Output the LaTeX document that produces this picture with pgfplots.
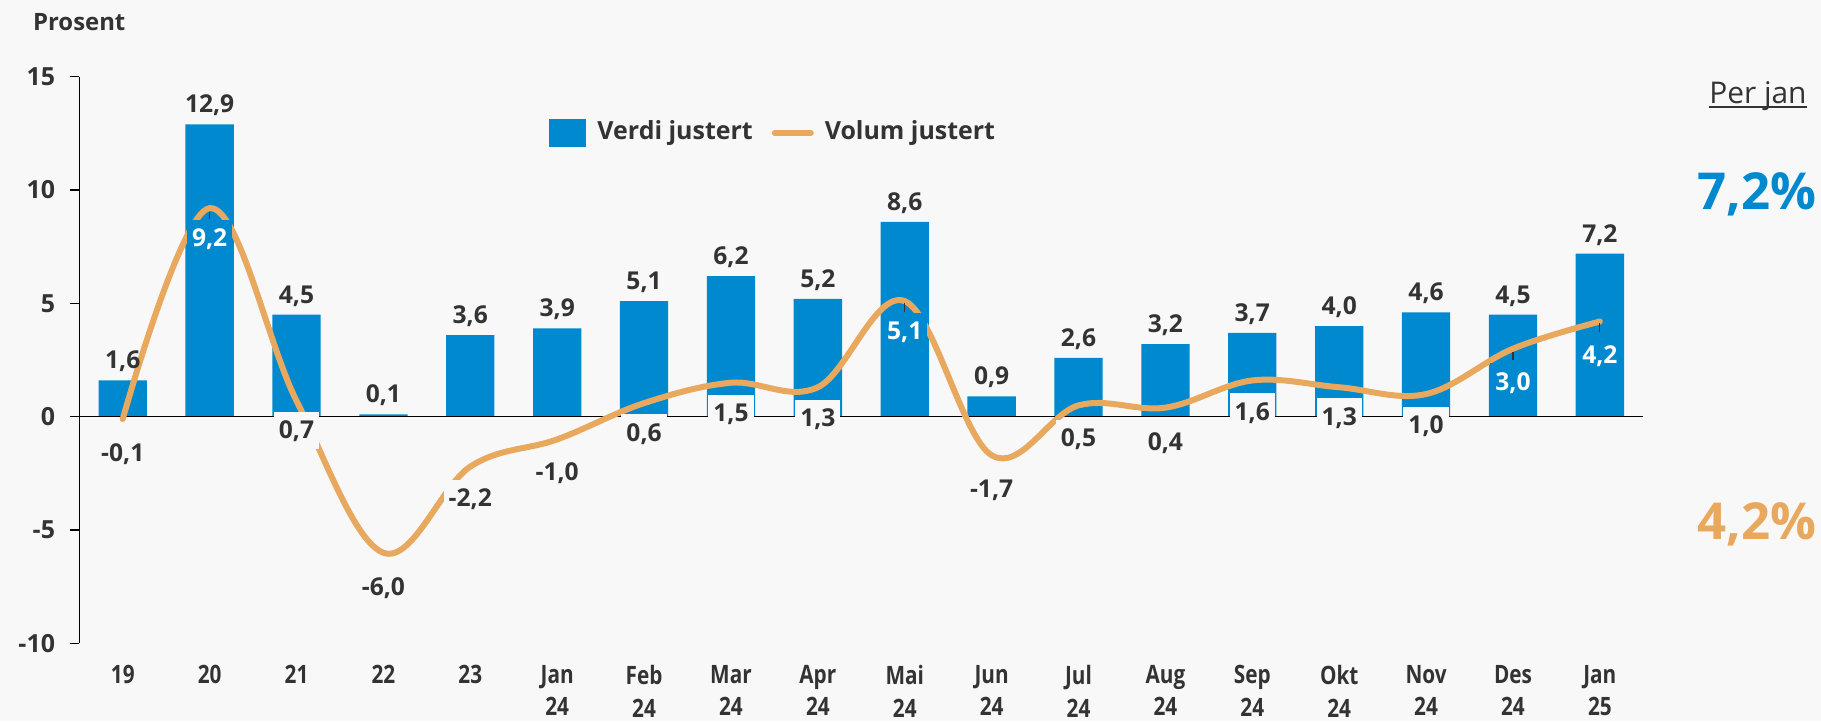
\documentclass[border=0pt]{standalone}
\usepackage{fontspec}
\setmainfont{Open Sans}
\newfontfamily\condsans{Open Sans}[FakeStretch=0.82]
\usepackage{pgfplots}
\usepackage{pgfplotstable}
\pgfplotsset{compat=1.18}

\definecolor{barblue}{HTML}{0089CF}
\definecolor{volorange}{HTML}{E8A95F}
\definecolor{txt}{HTML}{333333}
\definecolor{bg}{HTML}{F8F8F8}

% verdi = bars, volum = smooth line
\pgfplotstableread{
x verdi volum
0 1.6 -0.1
1 12.9 9.2
2 4.5 0.7
3 0.1 -6.0
4 3.6 -2.2
5 3.9 -1.0
6 5.1 0.6
7 6.2 1.5
8 5.2 1.3
9 8.6 5.1
10 0.9 -1.7
11 2.6 0.5
12 3.2 0.4
13 3.7 1.6
14 4.0 1.3
15 4.6 1.0
16 4.5 3.0
17 7.2 4.2
}\data

% label positions for the volume series
\pgfplotstableread{
x y lab
0 -1.59 -0,1
2 -0.59 0,7
3 -7.53 -6,0
4 -3.60 -2,2
5 -2.43 -1,0
6 -0.70 0,6
7 0.15 1,5
8 -0.07 1,3
10 -3.20 -1,7
11 -0.95 0,5
12 -1.10 0,4
13 0.22 1,6
14 0.00 1,3
15 -0.37 1,0
}\darklabels

\pgfplotstableread{
x y lab
1 7.87 9,2
9 3.78 5,1
16 1.54 3,0
17 2.72 4,2
}\lightlabels

\begin{document}
\begin{tikzpicture}
\fill[bg] (0,0) rectangle (182.1mm,72.1mm);
\useasboundingbox (0,0) rectangle (182.1mm,72.1mm);

\begin{axis}[
    at={(7.93mm,7.76mm)}, anchor=south west,
    scale only axis,
    width=156.4mm, height=56.67mm,
    xmin=-0.5, xmax=17.5,
    ymin=-10, ymax=15,
    clip=false,
    axis lines*=left,
    x axis line style={draw=none},
    y axis line style={black, line width=0.4pt},
    xtick={0,...,17},
    xticklabels={19,20,21,22,23,{Jan\\24},{Feb\\24},{Mar\\24},{Apr\\24},{Mai\\24},{Jun\\24},{Jul\\24},{Aug\\24},{Sep\\24},{Okt\\24},{Nov\\24},{Des\\24},{Jan\\25}},
    xtick style={draw=none},
    xticklabel style={anchor=north, inner sep=0pt, yshift=-1.2mm, align=center,
        font=\condsans\fontsize{7.2}{9.3}\selectfont\bfseries, text=txt},
    ytick={-10,-5,0,5,10,15},
    yticklabels={-10,-5,0,5,10,15},
    tick align=outside,
    major tick length=0.9mm,
    ytick style={black, line width=0.4pt},
    yticklabel style={anchor=east, inner sep=0pt, xshift=-1.46mm,
        font=\fontsize{7.1}{8}\selectfont\bfseries, text=txt},
    legend columns=2,
    legend style={at={(0.2999,0.9006)}, anchor=west, draw=none, fill=none,
        inner sep=0pt, font=\fontsize{7.1}{8.5}\selectfont\bfseries, text=txt,
        nodes={inner sep=0pt},
        /tikz/every odd column/.append style={column sep=1.1mm},
        /tikz/every even column/.append style={column sep=1.9mm}},
]

\addplot[ybar, bar width=4.83mm, fill=barblue, draw=none,
    legend image code/.code={\fill[barblue] (0mm,-1.4mm) rectangle (3.74mm,1.4mm);},
    nodes near coords={\pgfmathprintnumber[fixed, fixed zerofill, precision=1, use comma, assume math mode=true]{\pgfplotspointmeta}},
    every node near coord/.append style={font=\fontsize{7}{8}\selectfont\bfseries, text=txt, anchor=base, inner sep=0pt, yshift=1.15mm}]
    table[x=x, y=verdi] {\data};
\addlegendentry{Verdi justert}

\addplot[black, line width=0.4pt, forget plot] coordinates {(-0.5,0) (17.5,0)};

\addplot[volorange, line width=0.6mm, smooth, tension=0.6, line cap=round,
    legend image code/.code={\path (0,0) -- (3.6mm,0);
        \draw[volorange, line width=0.6mm, line cap=round] (0.3mm,0) -- (3.3mm,0);}]
    table[x=x, y=volum] {\data};
\addlegendentry{Volum justert}

% leader lines
\addplot[txt, line width=0.12mm, forget plot, unbounded coords=jump]
    coordinates {(1,9.04) (1,8.71) (1,nan) (9,5.02) (9,4.63) (9,nan)
                 (16,2.87) (16,2.5) (16,nan) (17,4.13) (17,3.75)};

\addplot[draw=none, mark=none, forget plot, point meta=explicit symbolic,
    nodes near coords,
    every node near coord/.append style={anchor=center, fill=bg, text=txt,
        font=\fontsize{7}{8}\selectfont\bfseries,
        text height=1.7mm, text depth=0pt, inner xsep=0.5mm, inner ysep=1.0mm}]
    table[x=x, y=y, meta=lab] {\darklabels};

\addplot[draw=none, mark=none, forget plot, point meta=explicit symbolic,
    nodes near coords,
    every node near coord/.append style={anchor=center, fill=barblue, text=white,
        font=\fontsize{7}{8}\selectfont\bfseries,
        text height=1.7mm, text depth=0pt, inner xsep=0.5mm, inner ysep=1.0mm}]
    table[x=x, y=y, meta=lab] {\lightlabels};

\node[anchor=base west, inner sep=0pt, text=txt, font=\fontsize{6.8}{8}\selectfont\bfseries]
    at (rel axis cs:-0.030,1.0824) {Prosent};
\node[anchor=base, inner sep=0pt, text=txt, font=\fontsize{8.5}{10}\selectfont] (pj)
    at (rel axis cs:1.0733,0.953) {Per jan};
\draw[txt, line width=0.2mm] ([yshift=-0.35mm]pj.base west) -- ([yshift=-0.35mm]pj.base east);
\node[anchor=base, inner sep=0pt, text=barblue, font=\fontsize{14.5}{16}\selectfont\bfseries]
    at (rel axis cs:1.0725,0.7648) {7,2\%};
\node[anchor=base, inner sep=0pt, text=volorange, font=\fontsize{14.5}{16}\selectfont\bfseries]
    at (rel axis cs:1.0725,0.1825) {4,2\%};
\end{axis}
\end{tikzpicture}
\end{document}
